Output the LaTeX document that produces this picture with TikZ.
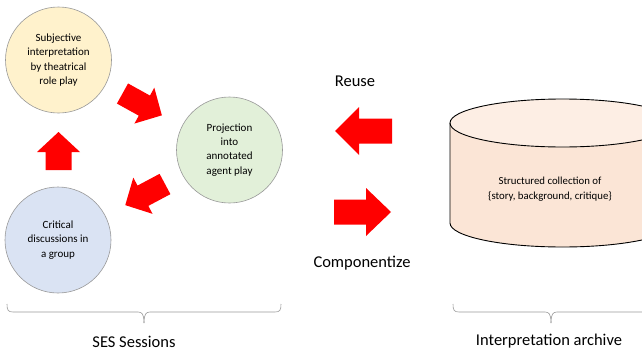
\documentclass[tikz,border=0pt]{standalone}
\usepackage{fontspec}
\setmainfont{Carlito}
\begin{document}
\begin{tikzpicture}[x=1pt,y=-1pt,
  bubble/.style={circle,draw=black!40,line width=0.6pt,minimum size=106pt,inner sep=0pt,align=center,font=\fontsize{11}{14.2}\selectfont},
  bigarrow/.style={fill=red,draw=none},
  bracepath/.style={draw=black!40,line width=0.6pt},
  caption/.style={font=\fontsize{16.5}{19}\selectfont,inner sep=0pt}
]
\useasboundingbox (0,0) rectangle (642,351);
\newcommand\blockarrow[7]{% tailx taily angle L w h hl
  \begin{scope}[shift={(#1,#2)},rotate=#3]
    \fill[bigarrow] (0,-#5) -- (#4-#7,-#5) -- (#4-#7,-#6) -- (#4,0) -- (#4-#7,#6) -- (#4-#7,#5) -- (0,#5) -- cycle;
  \end{scope}}
% circles
\node[bubble,fill={rgb,255:red,255;green,242;blue,204}] (subj) at (58.5,60) {Subjective\\interpretation\\by theatrical\\role play};
\node[bubble,fill={rgb,255:red,226;green,240;blue,217}] (proj) at (229.5,150) {Projection\\into\\annotated\\agent play};
\node[bubble,fill={rgb,255:red,218;green,227;blue,243}] (crit) at (58,240) {Critical\\discussions in\\a group};
% block arrows in the cycle
\blockarrow{58.5}{170}{90}{38}{13}{21.5}{20}
\blockarrow{122.5}{93.5}{-29}{45}{11.5}{20.5}{20}
\blockarrow{165}{184}{-152}{45}{11.5}{20.5}{20}
% reuse / componentize
\blockarrow{392}{131}{180}{57}{12.5}{24}{24}
\blockarrow{334}{212}{0}{57}{12.5}{24}{25}
\node[caption] (reuse) at (355,81) {Reuse};
\node[caption] (comp) at (362,263) {Componentize};
% cylinder
\begin{scope}
\clip (0,0) rectangle (642,351);
\fill[fill={rgb,255:red,251;green,229;blue,214}] (450,123) -- (450,223) arc[start angle=180,end angle=0,x radius=112.5,y radius=24] -- (675,123) -- cycle;
\fill[fill={rgb,255:red,253;green,238;blue,228}] (562.5,123) ellipse[x radius=112.5,y radius=24];
\draw[line width=0.9pt] (562.5,123) ellipse[x radius=112.5,y radius=24];
\draw[line width=0.9pt] (450,123) -- (450,223) arc[start angle=180,end angle=0,x radius=112.5,y radius=24] -- (675,123);
\end{scope}
\node[font=\fontsize{10.8}{15.3}\selectfont,align=center,inner sep=0pt] (store) at (550,189) {Structured collection of\\\{story, background, critique\}};
% braces
\draw[bracepath] (7,304) .. controls (7,310) and (8,312) .. (13,312) -- (138,312) .. controls (142,312) and (144,314) .. (144,323);
\draw[bracepath] (281,304) .. controls (281,310) and (280,312) .. (275,312) -- (150,312) .. controls (146,312) and (144,314) .. (144,323);
\draw[bracepath] (453,304) .. controls (453,310) and (454,312) .. (459,312) -- (545,312) .. controls (549,312) and (551,314) .. (551,323);
\draw[bracepath] (660,312) -- (557,312) .. controls (553,312) and (551,314) .. (551,323);
\node[caption] (ses) at (134,341.5) {SES Sessions};
\node[caption] (arch) at (549,341.5) {Interpretation archive};
\end{tikzpicture}
\end{document}
